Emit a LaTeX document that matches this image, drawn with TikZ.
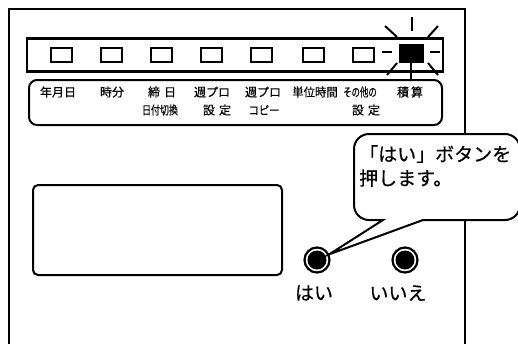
\documentclass[tikz,border=0pt]{standalone}
\usepackage{graphicx}
\usepackage{fontspec}
\setmainfont{Noto Sans CJK JP}[FakeBold=0.5]
\usetikzlibrary{positioning}

\begin{document}
\begin{tikzpicture}[x=1pt,y=1pt,
  ledoff/.style={draw, line width=2pt, minimum width=21pt, minimum height=14pt, inner sep=0pt},
  ledon/.style={ledoff, fill=black, minimum width=23pt, minimum height=17pt},
  etiq/.style={font=\fontsize{12}{14}\selectfont, inner sep=0pt},
  bouton/.style={circle, draw, line width=2.2pt, minimum size=25pt, inner sep=0pt,
    path picture={\fill (path picture bounding box.center) circle (9.5pt);}},
  gros/.style={font=\fontsize{19}{24}\selectfont, inner sep=0pt}]
\useasboundingbox (0,0) rectangle (518,-343);

%boitier
\draw[line width=2pt] (9,-360) -- (9,-9) -- (465,-9) -- (465,-360);

%rangee de voyants
\draw[line width=2.2pt] (27,-38.5) rectangle (443,-71.5);
\node[ledoff] (led1) at (61.5,-55) {};
\node[ledoff] (led2) at (111.5,-55) {};
\node[ledoff] (led3) at (161.5,-55) {};
\node[ledoff] (led4) at (211.5,-55) {};
\node[ledoff] (led5) at (261.5,-55) {};
\node[ledoff] (led6) at (313.5,-55) {};
\node[ledoff] (led7) at (363.5,-55) {};
\node[ledon] (led8) at (411,-53) {}; %voyant allume

%rayons du voyant
\draw[line width=2pt] (412,-17) -- (412,-31);
\draw[line width=2pt] (385,-26) -- (397,-37);
\draw[line width=2pt] (428,-37) -- (438,-26);
\draw[line width=2pt] (382,-52) -- (392,-52);
\draw[line width=2pt] (430,-52) -- (440,-52);
\draw[line width=2pt] (387,-75) -- (397,-63);
\draw[line width=2pt] (428,-63) -- (438,-75);

%cadre des noms
\node[draw, line width=2pt, rounded corners=8pt, minimum width=413pt, minimum height=45pt] (noms) at (235.5,-102.5) {};
\draw[line width=2pt] (led8.south) -- (led8.south |- noms.north);

\node[etiq] (nom1) at (58,-92) {年月日};
\node[etiq] (nom2) at (112,-92) {時分};
\node[etiq] (nom3) at (162,-92) {締\,\,日};
\node[etiq] (nom3b) at (160,-110) {\scalebox{0.75}[1]{日付切換}};
\node[etiq] (nom4) at (212,-92) {週プロ};
\node[etiq] (nom4b) at (217,-110) {設\,\,定};
\node[etiq] (nom5) at (263,-92) {週プロ};
\node[etiq] (nom5b) at (264,-110) {\scalebox{0.85}[1]{コピー}};
\node[etiq] (nom6) at (315,-92) {\scalebox{0.95}[1]{単位時間}};
\node[etiq] (nom7) at (360,-92) {\scalebox{0.7}[1]{その他の}};
\node[etiq] (nom7b) at (366,-110) {設\,\,定};
\node[etiq] (nom8) at (410,-92) {積\,算};

%afficheur
\draw[line width=2pt, rounded corners=5pt] (33,-185) rectangle (282,-275);

%boutons
\node[bouton] (hai) at (317,-260) {};
\node[bouton] (iie) at (405,-260) {};
\node[gros] (thai) at (314,-293) {はい};
\node[gros] (tiie) at (398,-293) {いいえ};

%bulle
\draw[line width=2pt, fill=white] (369,-134) -- (505,-134) arc[start angle=90, end angle=0, radius=15]
  -- (520,-205) arc[start angle=0, end angle=-90, radius=15] -- (423,-220) -- (hai.25) -- (383,-220)
  -- (369,-220) arc[start angle=270, end angle=180, radius=15] -- (354,-149)
  arc[start angle=180, end angle=90, radius=15] -- cycle;
\node[gros, align=left, anchor=west] (bulle) at (359,-166) {「はい」ボタンを\\押します。};

\end{tikzpicture}
\end{document}
